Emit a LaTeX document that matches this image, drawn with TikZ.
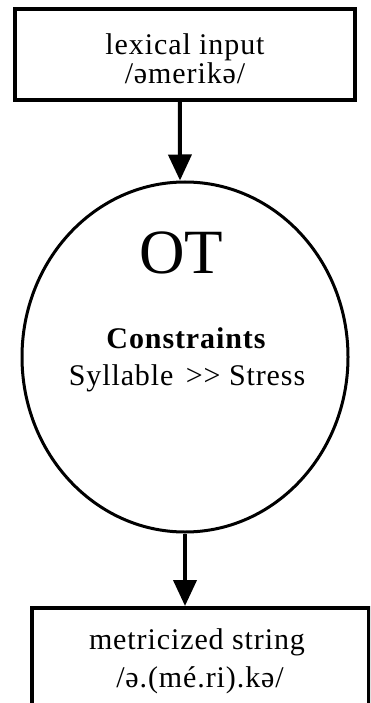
\documentclass[tikz,border=0pt]{standalone}
\usepackage{fontspec}
\setmainfont{Liberation Serif}
\usetikzlibrary{shapes.geometric,arrows.meta}
\tikzset{
  frame/.style={draw=black, line width=4pt, rectangle, inner sep=0pt},
  otcircle/.style={draw=black, line width=3pt, ellipse, inner sep=0pt},
  flow/.style={line width=4pt, -{Triangle[length=26pt,width=23pt]}},
  txt/.style={anchor=base, inner sep=0pt, font=\fontsize{30}{30}\selectfont\addfontfeature{LetterSpace=3}},
}
\begin{document}
\begin{tikzpicture}[x=1pt,y=-1pt]
\useasboundingbox (0,0) rectangle (370,703);
\fill[white] (0,0) rectangle (370,703);
\clip (0,0) rectangle (370,703);
% top box
\node[frame, minimum width=340.5pt, minimum height=90.5pt] (top) at (184.75,54.75) {};
\node[txt] (t1) at (185,55) {lexical input};
\node[txt] (t2) at (185,84) {/əmerikə/};
% OT ellipse
\node[otcircle, minimum width=326pt, minimum height=350pt] (ot) at (185,357) {};
\node[txt, font=\fontsize{63}{63}\selectfont] (otl) at (181,273) {OT};
\node[txt, font=\fontsize{30}{30}\selectfont\bfseries\addfontfeature{LetterSpace=3}] (c1) at (186,348) {Constraints};
\node[txt] (c2) at (187,385) {Syllable\ \hspace{4pt}{>}{>} Stress};
% bottom box
\node[frame, minimum width=337pt, minimum height=160pt] (bot) at (200.5,688) {};
\node[txt] (b1) at (197,649) {metricized string};
\node[txt] (b2) at (200,687) {/ə.(mé.ri).kə/};
% arrows
\draw[flow] ([xshift=-5pt]top.south) -- ([xshift=-5pt]ot.north);
\draw[flow] (ot.south) -- (ot.south |- bot.north);
\end{tikzpicture}
\end{document}
